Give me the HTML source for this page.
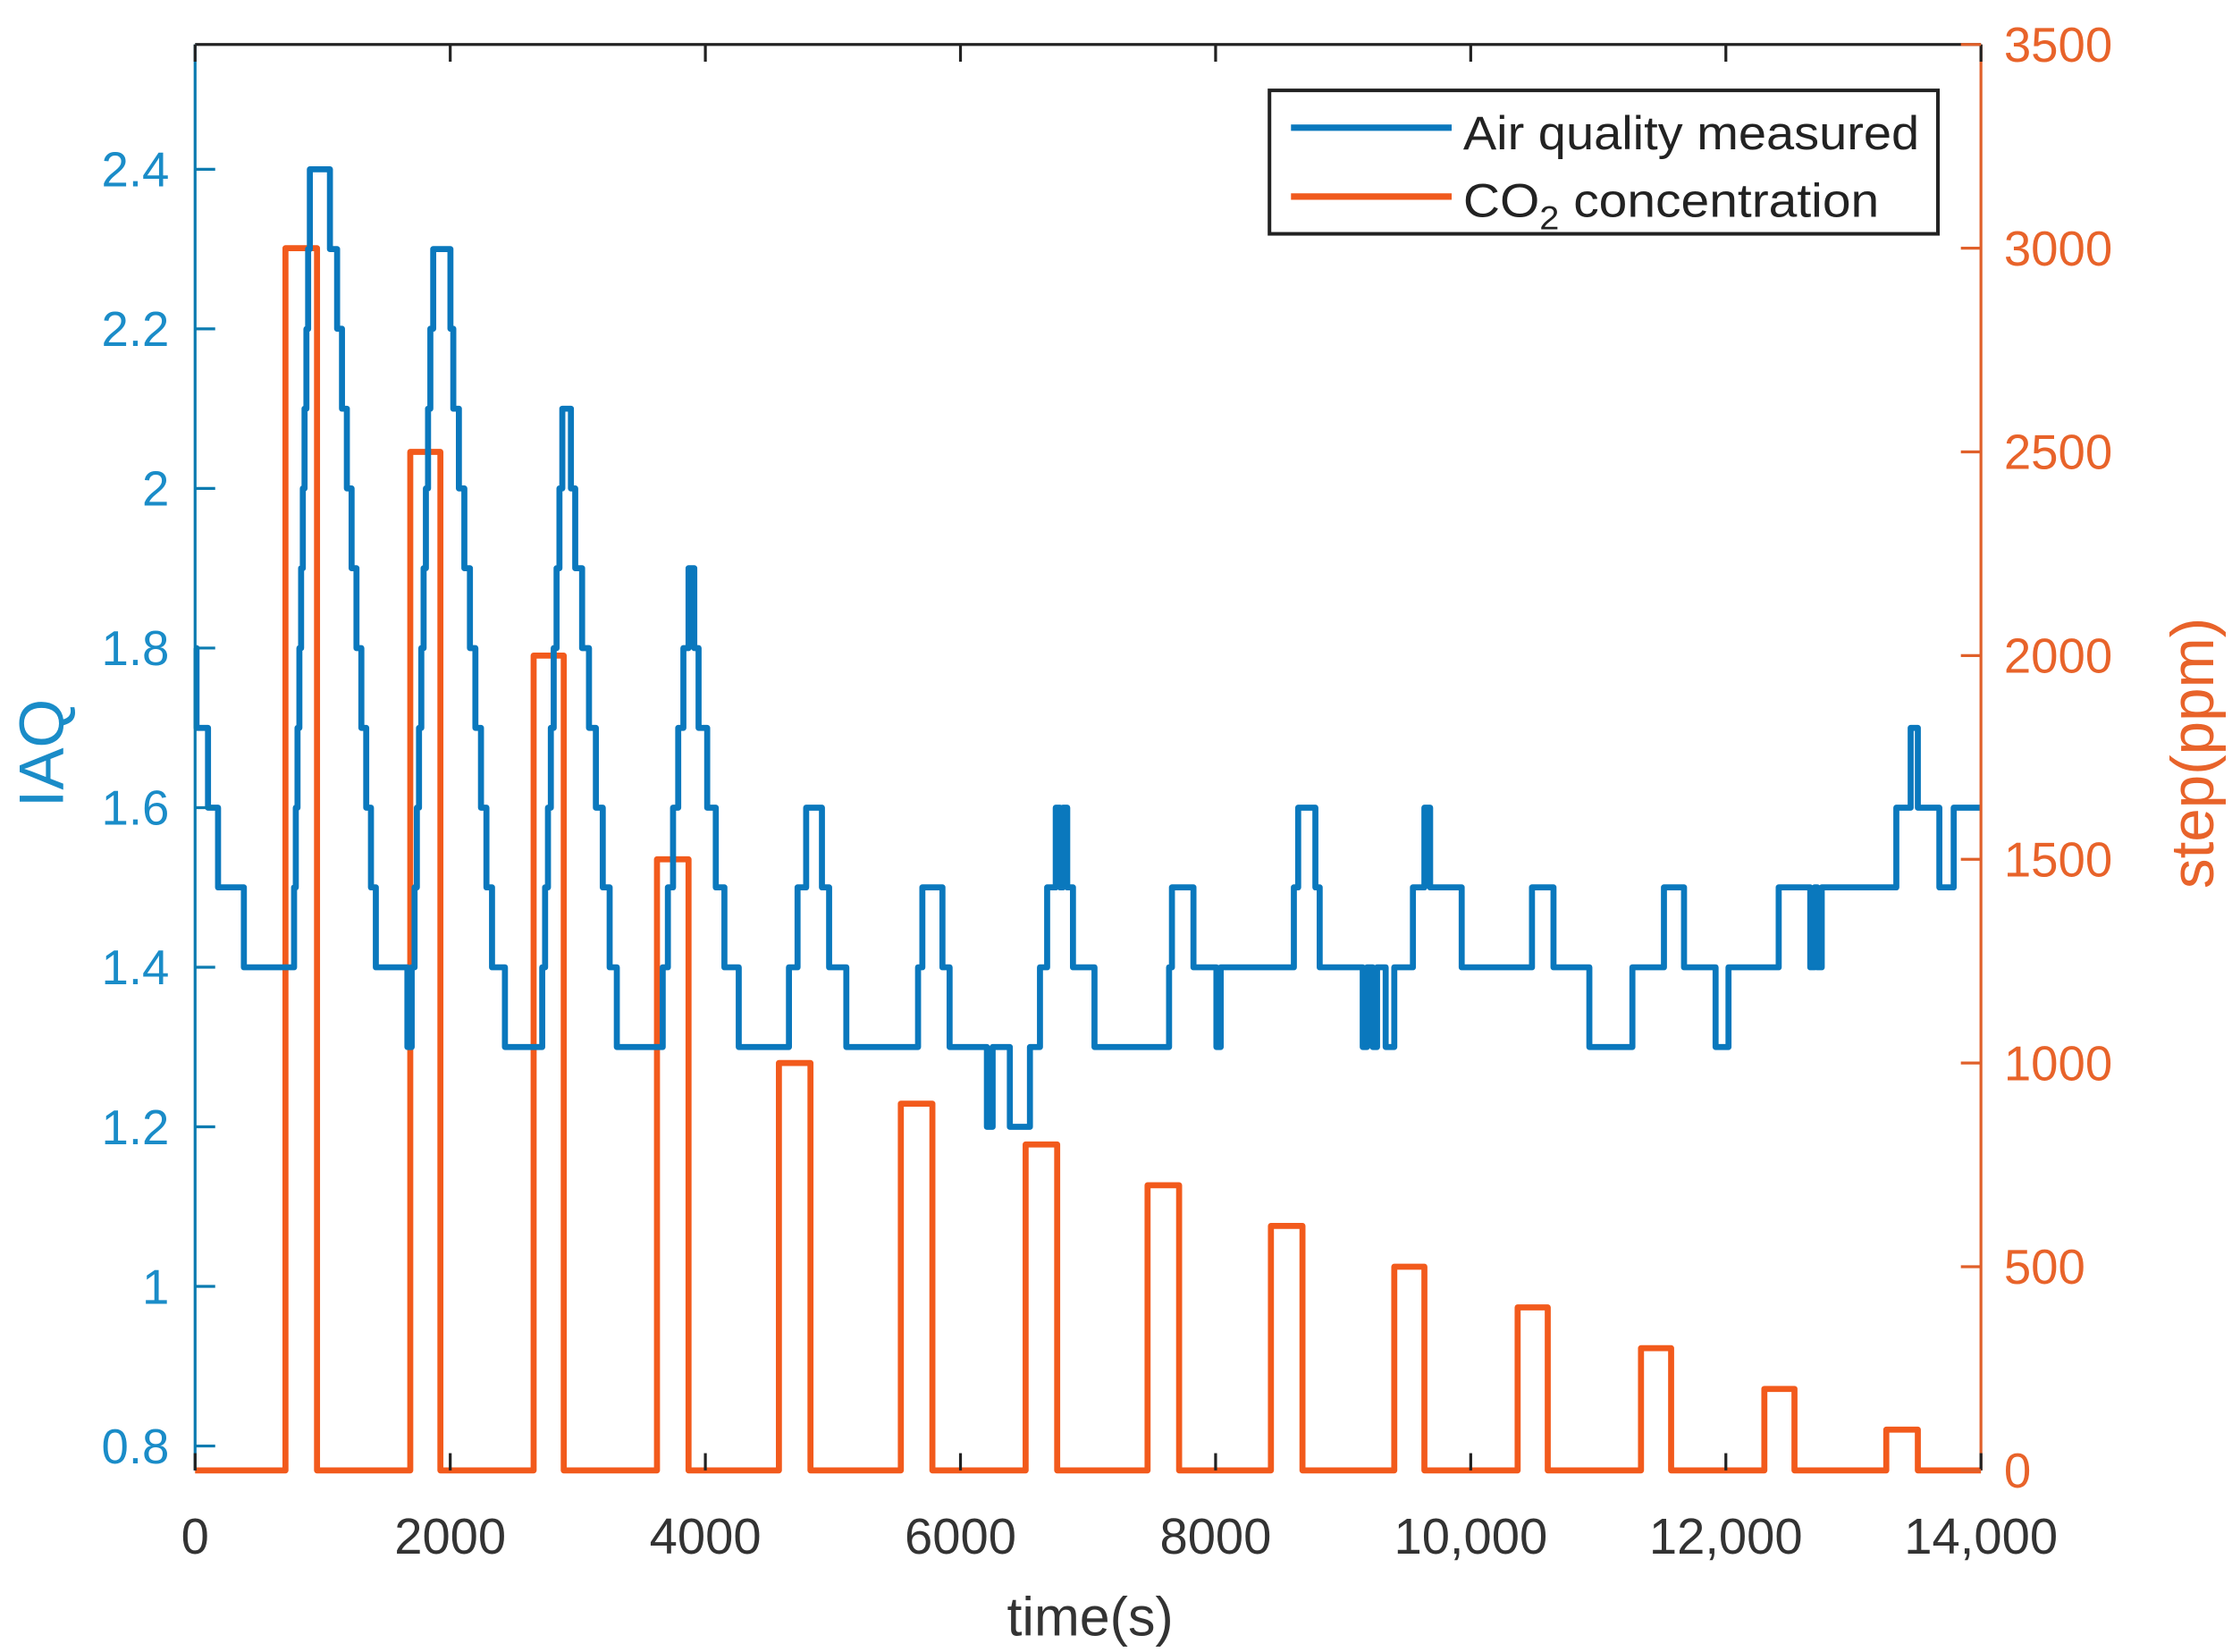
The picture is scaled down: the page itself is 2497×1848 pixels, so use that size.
<!DOCTYPE html>
<html><head><meta charset="utf-8"><style>
html,body{margin:0;padding:0;background:#fff;}
svg{display:block;}
text{font-family:"Liberation Sans",sans-serif;}
</style></head><body>
<svg id="s" width="2497" height="1848" viewBox="0 0 1556 1151.6" xmlns="http://www.w3.org/2000/svg">
<rect width="1556" height="1152" fill="#fff"/>
<g id="plot"></g>
<!-- axes -->
<line x1="136" y1="31" x2="1381" y2="31" stroke="#222" stroke-width="2"/>
<line x1="136" y1="31" x2="136" y2="1025" stroke="#0b7bb0" stroke-width="2"/>
<line x1="1381" y1="31" x2="1381" y2="1025" stroke="#e0602a" stroke-width="2"/>
<g id="ticks"></g>
<!-- legend -->
<rect x="885" y="63" width="466" height="100" fill="#fff" stroke="#222" stroke-width="2.5"/>
<line x1="900" y1="89" x2="1012" y2="89" stroke="#0a78bd" stroke-width="4.5"/>
<line x1="900" y1="137" x2="1012" y2="137" stroke="#f05a1e" stroke-width="4.5"/>
<text x="1020" y="104" font-size="33" fill="#222" textLength="318" lengthAdjust="spacingAndGlyphs">Air quality measured</text>
<text x="1020" y="151" font-size="33" fill="#222" textLength="290" lengthAdjust="spacingAndGlyphs">CO<tspan font-size="23" dy="9">2</tspan><tspan dy="-9"> concentration</tspan></text>
<text x="760" y="1140" font-size="38" fill="#333" text-anchor="middle">time(s)</text>
<text transform="translate(44,525) rotate(-90)" font-size="44" fill="#1a8cc8" text-anchor="middle">IAQ</text>
<text transform="translate(1543,525) rotate(-90)" font-size="42" fill="#e8632a" text-anchor="middle">step(ppm)</text>
</svg>
<script>
const NS="http://www.w3.org/2000/svg";
function el(p,t,a,txt){const e=document.createElementNS(NS,t);for(const k in a)e.setAttribute(k,a[k]);if(txt!==undefined)e.textContent=txt;p.appendChild(e);return e;}
const T=document.getElementById('ticks'),P=document.getElementById('plot');
const xs=v=>136+v*0.08893;
const yl=v=>1008-(v-0.8)*556.25;
const yr=v=>1025-v*0.284;
["0","2000","4000","6000","8000","10,000","12,000","14,000"].forEach((l,i)=>{
 const x=xs(i*2000);
 el(T,'line',{x1:x,y1:31,x2:x,y2:43,stroke:'#222','stroke-width':2});
 el(T,'line',{x1:x,y1:1025,x2:x,y2:1013,stroke:'#222','stroke-width':2});
 el(T,'text',{x:x,y:1083,'font-size':35,fill:'#333','text-anchor':'middle'},l);
});
[0.8,1,1.2,1.4,1.6,1.8,2,2.2,2.4].forEach(v=>{
 const y=yl(v);
 el(T,'line',{x1:136,y1:y,x2:150,y2:y,stroke:'#0b7bb0','stroke-width':2});
 el(T,'text',{x:118,y:y+12,'font-size':34,fill:'#1a8cc8','text-anchor':'end'},String(v));
});
for(let v=0;v<=3500;v+=500){
 const y=yr(v);
 el(T,'line',{x1:1381,y1:y,x2:1367,y2:y,stroke:'#e0602a','stroke-width':2});
 el(T,'text',{x:1397,y:y+12,'font-size':34,fill:'#e8632a'},String(v));
}
// orange pulses
const pulses=[[199,221,3000],[286,307,2500],[372,393,2000],[458,480,1500],[543,565,1000],[628,650,900],[715,737,800],[800,822,700],[886,908,600],[972,993,500],[1058,1079,400],[1144,1165,300],[1230,1251,200],[1315,1337,100]];
let d="M136 1025";
pulses.forEach(p=>{d+=` H${p[0]} V${yr(p[2])} H${p[1]} V1025`;});
d+=" H1381";
el(P,'path',{d:d,fill:'none',stroke:'#f25a1c','stroke-width':4.2,'stroke-linejoin':'round'});
// blue steps
let pts=[[136,1.8],[137,1.7],[145,1.6],[152,1.5],[170,1.4]];
function ramp(x0,x1,v0,v1){const n=Math.round(Math.abs(v1-v0)*10);for(let i=0;i<=n;i++){pts.push([x0+(x1-x0)*i/n,v0+(v1-v0)*i/n]);}}
ramp(205,216,1.5,2.4);pts.push([230,2.3]);ramp(235,262,2.2,1.4);
pts.push([284,1.3],[287,1.4]);ramp(289,300,1.5,2.2);pts.push([302,2.3],[314,2.2]);ramp(316,343,2.1,1.4);
pts.push([352,1.3]);ramp(378,392,1.4,2.1);pts.push([398,2.0]);ramp(401,425,1.9,1.4);pts.push([430,1.3]);
ramp(462,480,1.4,1.9);pts.push([484,1.8]);ramp(487,505,1.7,1.4);pts.push([515,1.3]);
pts.push([550,1.4],[556,1.5],[562,1.6],[573,1.5],[578,1.4],[590,1.3],[640,1.4],[643,1.5],[657,1.4],[662,1.3],[688,1.2],[692,1.3],[704,1.2],[718,1.3],[725,1.4],[730,1.5],[736,1.6],[739,1.5],[741,1.6],[744,1.5],[748,1.4],[763,1.3],[815,1.4],[817,1.5],[832,1.4],[848,1.3],[851,1.4],[902,1.5],[905,1.6],[917,1.5],[920,1.4],[950,1.3],[953,1.4],[957,1.3],[960,1.4],[966,1.3],[972,1.4],[985,1.5],[993,1.6],[997,1.5],[1019,1.4],[1068,1.5],[1083,1.4],[1108,1.3],[1138,1.4],[1160,1.5],[1174,1.4],[1196,1.3],[1205,1.4],[1240,1.5],[1262,1.4],[1265,1.5],[1267,1.4],[1270,1.5],[1322,1.6],[1332,1.7],[1337,1.6],[1352,1.5],[1362,1.6],[1381,1.6]);
let b=`M${pts[0][0]} ${yl(pts[0][1])}`;
for(let i=1;i<pts.length;i++){b+=` H${pts[i][0].toFixed(1)} V${yl(pts[i][1]).toFixed(1)}`;}
el(P,'path',{d:b,fill:'none',stroke:'#0a78bd','stroke-width':4.2,'stroke-linejoin':'round'});
</script>
</body></html>
